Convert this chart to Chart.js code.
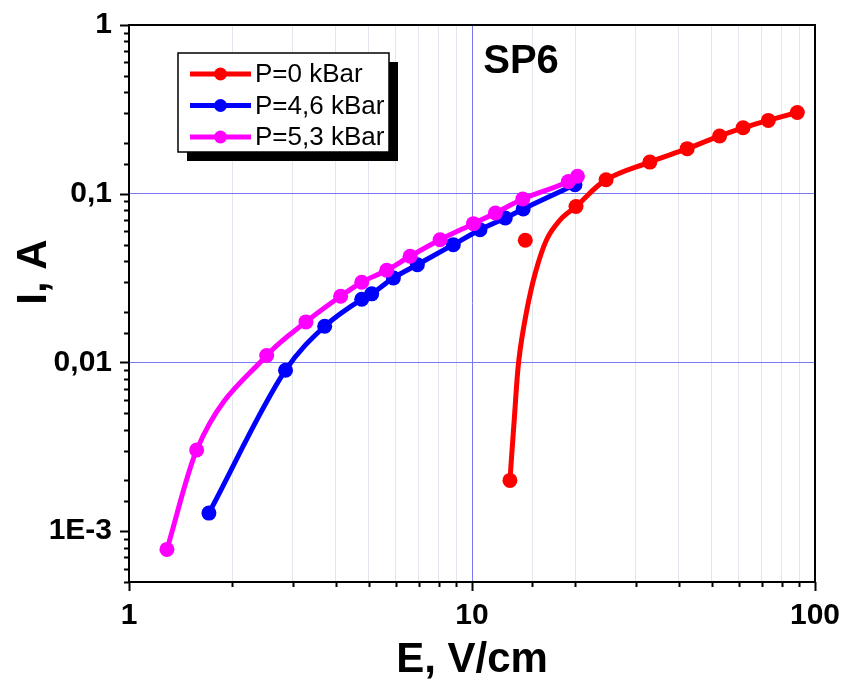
<!DOCTYPE html>
<html>
<head>
<meta charset="utf-8">
<script src="https://cdn.jsdelivr.net/npm/chart.js@4.4.0/dist/chart.umd.min.js"></script>
<style>
  html, body { margin: 0; padding: 0; background: #fff; }
  #wrap { width: 848px; height: 688px; }
</style>
</head>
<body>
<div id="wrap"><canvas id="ivChart" width="848" height="688"></canvas></div>
<script>
// P=0 kBar: measured points
const e0 = [12.9, 14.3, 20.1, 24.6, 33.0, 42.4, 52.7, 61.7, 73.1, 88.8];
const i0 = [0.002, 0.053, 0.084, 0.121, 0.154, 0.185, 0.220, 0.246, 0.272, 0.303];
// P=0 kBar: fitted curve
const e0Fit = [12.9, 13.3, 13.7, 14.4, 15.3, 16.5, 18.1, 20.1, 24.6, 33.0, 42.4, 52.7, 61.7, 73.1, 88.8];
const i0Fit = [0.002, 0.0048, 0.0104, 0.0197, 0.034, 0.0534, 0.0702, 0.084, 0.121, 0.154, 0.185, 0.220, 0.246, 0.272, 0.303];
// P=4,6 kBar
const e46 = [1.71, 2.86, 3.72, 4.77, 5.1, 5.9, 6.93, 8.82, 10.55, 12.5, 14.1, 19.96];
const i46 = [0.00128, 0.009, 0.0164, 0.0237, 0.0255, 0.0317, 0.038, 0.0499, 0.0612, 0.0718, 0.0812, 0.113];
// P=5,3 kBar
const e53 = [1.29, 1.575, 2.52, 3.28, 4.14, 4.77, 5.64, 6.6, 8.07, 10.1, 11.7, 14.06, 19.1, 20.3];
const i53 = [0.00078, 0.00303, 0.011, 0.0174, 0.0247, 0.0299, 0.0352, 0.0426, 0.0534, 0.0665, 0.0769, 0.093, 0.118, 0.127];

const seriesLabels = ['P=0 kBar', 'P=4,6 kBar', 'P=5,3 kBar'];
const seriesColors = ['#ff0000', '#0000ff', '#ff00ff'];

const xTickValues = [1, 10, 100];
const xTickLabels = ['1', '10', '100'];
const yTickValues = [0.001, 0.01, 0.1, 1];
const yTickLabels = ['1E-3', '0,01', '0,1', '1'];

const xTitle = 'E, V/cm';
const yTitle = 'I, A';
const sampleName = 'SP6';

const FONT = "'Liberation Sans', Arial, sans-serif";

function pts(xs, ys) {
    return xs.map((x, k) => ({ x: x, y: ys[k] }));
}

function findMajor(list, v) {
    return list.findIndex(t => Math.abs(Math.log10(t) - Math.log10(v)) < 1e-6);
}

// рамка, засечки, легенда и подписи
const decorPlugin = {
    id: 'decor',
    afterDatasetsDraw(chart) {
        const ctx = chart.ctx;
        const a = chart.chartArea;
        const xs = chart.scales.x;
        const ys = chart.scales.y;
        ctx.save();

        // ticks (outside)
        ctx.strokeStyle = '#000';
        ctx.lineWidth = 2;
        ys.ticks.forEach(t => {
            const py = Math.round(ys.getPixelForValue(t.value)) + 0.5;
            const len = findMajor(yTickValues, t.value) >= 0 ? 9 : 5;
            ctx.beginPath();
            ctx.moveTo(a.left - len, py);
            ctx.lineTo(a.left, py);
            ctx.stroke();
        });
        xs.ticks.forEach(t => {
            const px = Math.round(xs.getPixelForValue(t.value)) + 0.5;
            const len = findMajor(xTickValues, t.value) >= 0 ? 9 : 5;
            ctx.beginPath();
            ctx.moveTo(px, a.bottom);
            ctx.lineTo(px, a.bottom + len);
            ctx.stroke();
        });

        // box
        ctx.strokeRect(a.left, a.top, a.right - a.left, a.bottom - a.top);

        // legend
        const lx = 178, ly = 53, lw = 211, lh = 99;
        ctx.fillStyle = '#000';
        ctx.fillRect(lx + 9, ly + 9, lw, lh);
        ctx.fillStyle = '#fff';
        ctx.fillRect(lx, ly, lw, lh);
        ctx.lineWidth = 1.5;
        ctx.strokeRect(lx, ly, lw, lh);
        ctx.font = '26px ' + FONT;
        ctx.textAlign = 'left';
        ctx.textBaseline = 'middle';
        seriesLabels.forEach((lab, k) => {
            const ry = 74 + k * 31.5;
            ctx.strokeStyle = seriesColors[k];
            ctx.lineWidth = 5;
            ctx.beginPath();
            ctx.moveTo(190, ry);
            ctx.lineTo(251, ry);
            ctx.stroke();
            ctx.fillStyle = seriesColors[k];
            ctx.beginPath();
            ctx.arc(220.5, ry, 6.5, 0, Math.PI * 2);
            ctx.fill();
            ctx.fillStyle = '#000';
            ctx.fillText(lab, 255, ry + 1);
        });

        // sample name
        ctx.font = 'bold 40px ' + FONT;
        ctx.textAlign = 'center';
        ctx.fillText(sampleName, 521, 62);

        // axis titles
        ctx.font = 'bold 42px ' + FONT;
        ctx.fillText(xTitle, (a.left + a.right) / 2, 660);
        ctx.translate(34, 272);
        ctx.rotate(-Math.PI / 2);
        ctx.fillText(yTitle, 0, 0);
        ctx.restore();
    }
};

function gridColor(majors, minorColor) {
    return c => {
        const v = c.tick ? c.tick.value : null;
        if (v === null) return 'rgba(0,0,0,0)';
        const k = findMajor(majors, v);
        if (k === 0 || k === majors.length - 1) return 'rgba(0,0,0,0)';
        return k > 0 ? '#7878f0' : minorColor;
    };
}

function lineSet(k, xs, ys, order) {
    return {
        label: seriesLabels[k],
        data: pts(xs, ys),
        showLine: true,
        borderColor: seriesColors[k],
        backgroundColor: seriesColors[k],
        borderWidth: 5,
        pointRadius: 7.5,
        pointBorderWidth: 0,
        cubicInterpolationMode: 'monotone',
        order: order
    };
}

document.addEventListener('DOMContentLoaded', () => {
    const ctx = document.getElementById('ivChart').getContext('2d');

    const red = lineSet(0, e0, i0, 2);
    red.showLine = false;
    const redFit = lineSet(0, e0Fit, i0Fit, 3);
    redFit.label = seriesLabels[0] + ' fit';
    redFit.pointRadius = 0;
    redFit.cubicInterpolationMode = 'default';
    redFit.tension = 0.35;

    new Chart(ctx, {
        type: 'scatter',
        data: {
            datasets: [
                lineSet(2, e53, i53, 0),
                lineSet(1, e46, i46, 1),
                red,
                redFit
            ]
        },
        options: {
            responsive: false,
            animation: false,
            devicePixelRatio: 1,
            layout: { padding: { top: 25, right: 33, left: 0, bottom: 0 } },
            plugins: {
                legend: { display: false },
                tooltip: { enabled: false }
            },
            scales: {
                x: {
                    type: 'logarithmic',
                    min: 1,
                    max: 100,
                    border: { display: false },
                    grid: { color: gridColor(xTickValues, '#e2e6ee'), lineWidth: 1, drawTicks: false },
                    ticks: {
                        autoSkip: false,
                        maxRotation: 0,
                        padding: 16,
                        color: '#000',
                        font: { family: FONT, size: 30, weight: 'bold' },
                        callback: v => {
                            const k = findMajor(xTickValues, v);
                            return k >= 0 ? xTickLabels[k] : '';
                        }
                    },
                    afterFit: s => {
                        s.height = 106;
                        s.paddingLeft = 0;
                        s.paddingRight = 0;
                    }
                },
                y: {
                    type: 'logarithmic',
                    min: 0.0005,
                    max: 1,
                    border: { display: false },
                    grid: { color: gridColor(yTickValues, 'rgba(0,0,0,0)'), lineWidth: 1, drawTicks: false },
                    ticks: {
                        autoSkip: false,
                        padding: 17,
                        color: '#000',
                        font: { family: FONT, size: 30, weight: 'bold' },
                        callback: v => {
                            const k = findMajor(yTickValues, v);
                            return k >= 0 ? yTickLabels[k] : '';
                        }
                    },
                    afterFit: s => {
                        s.width = 129;
                        s.paddingTop = 0;
                        s.paddingBottom = 0;
                    }
                }
            }
        },
        plugins: [decorPlugin]
    });
});
</script>
</body>
</html>
